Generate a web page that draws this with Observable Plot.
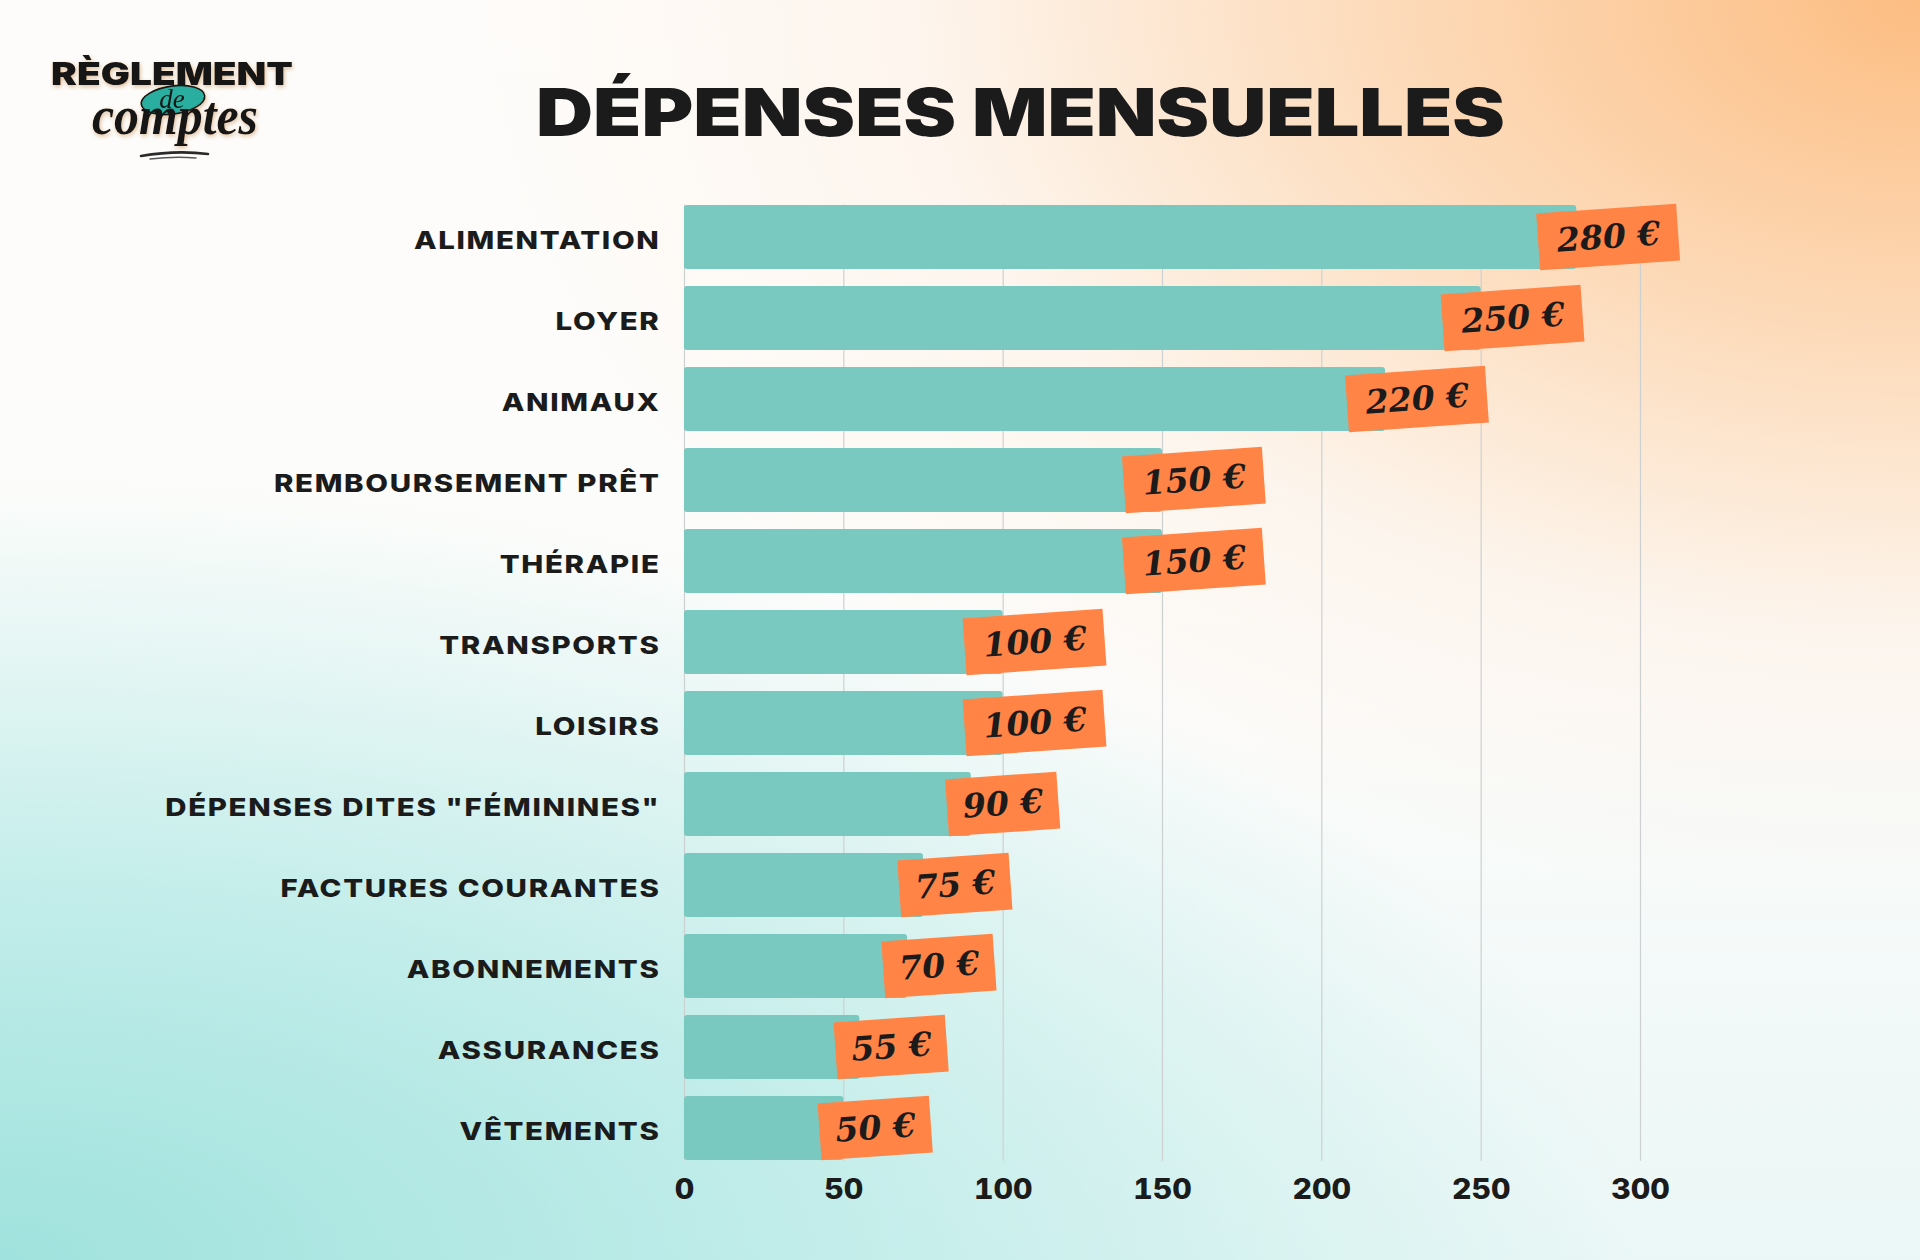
<!DOCTYPE html>
<html>
<head>
<meta charset="utf-8">
<script src="https://cdn.jsdelivr.net/npm/d3@7"></script>
<script src="https://cdn.jsdelivr.net/npm/@observablehq/plot@0.6"></script>
<style>
  html, body { margin: 0; padding: 0; }
  body {
    width: 1920px; height: 1260px; overflow: hidden; position: relative;
    background:
      radial-gradient(ellipse 75% 72% at 100% 0%, rgba(252,186,124,0.95) 0%, rgba(252,200,150,0.6) 40%, rgba(253,225,200,0.25) 70%, rgba(253,235,220,0) 100%),
      radial-gradient(ellipse 85% 62% at 0% 100%, rgba(160,226,221,1) 0%, rgba(175,232,228,0.75) 45%, rgba(215,243,241,0) 100%),
      linear-gradient(180deg, #fefcfa 0%, #fcfcfb 55%, #eaf7f6 100%);
  }
  #chart { position: absolute; left: 0; top: 150px; }
  #overlay { position: absolute; left: 0; top: 0; pointer-events: none; }
</style>
</head>
<body>
<div id="chart"></div>
<svg id="overlay" width="1920" height="1260" xmlns="http://www.w3.org/2000/svg">
  <defs>
    <filter id="glow" x="-10%" y="-30%" width="120%" height="160%">
      <feDropShadow dx="1" dy="2" stdDeviation="2" flood-color="#b5732e" flood-opacity="0.45"/>
    </filter>
  </defs>
  <text x="536" y="136" font-family="Inter, sans-serif" font-weight="900" font-size="66" textLength="969" lengthAdjust="spacingAndGlyphs" fill="#1b1b1b">DÉPENSES MENSUELLES</text>
  <g filter="url(#glow)">
    <text x="51" y="85" font-family="Inter, sans-serif" font-weight="900" font-size="31" textLength="242" lengthAdjust="spacingAndGlyphs" fill="#161616">RÈGLEMENT</text>
    <ellipse cx="173" cy="100" rx="32" ry="14" transform="rotate(-8 173 100)" fill="#2aae9f" stroke="#161616" stroke-width="1.6"/>
    <text x="172" y="108" text-anchor="middle" font-family="'Liberation Serif', serif" font-style="italic" font-size="27" fill="#161616">de</text>
    <text x="92" y="134" font-family="'Liberation Serif', serif" font-style="italic" font-weight="700" font-size="54" textLength="166" lengthAdjust="spacingAndGlyphs" fill="#161616">comptes</text>
  </g>
  <path d="M141 156 Q176 150 208 154" fill="none" stroke="#2a2a2a" stroke-width="2.6" stroke-linecap="round"/>
  <path d="M150 159 Q175 156 196 158" fill="none" stroke="#555" stroke-width="1.4" stroke-linecap="round"/>
</svg>
<script>
const categories = [
  "ALIMENTATION",
  "LOYER",
  "ANIMAUX",
  "REMBOURSEMENT PRÊT",
  "THÉRAPIE",
  "TRANSPORTS",
  "LOISIRS",
  "DÉPENSES DITES \"FÉMININES\"",
  "FACTURES COURANTES",
  "ABONNEMENTS",
  "ASSURANCES",
  "VÊTEMENTS"
];
const values = [280, 250, 220, 150, 150, 100, 100, 90, 75, 70, 55, 50];
const xTicks = [0, 50, 100, 150, 200, 250, 300];

const data = categories.map((c, i) => ({category: c, value: values[i]}));

const labelShift = 10;               // label centre, in data units past the bar end
const boxHalf = d => (String(d.value).length >= 3 ? 22 : 17.5);

const chart = Plot.plot({
  width: 1920,
  height: 1110,
  marginLeft: 684,
  marginRight: 280,
  marginTop: 37.4,
  marginBottom: 82.3,
  style: {background: "transparent", fontFamily: "Inter, sans-serif", color: "#1b1b1b", overflow: "visible"},
  x: {domain: [0, 300], ticks: xTicks, label: null},
  y: {domain: categories, padding: 0.211, label: null},
  marks: [
    Plot.ruleX(xTicks, {x: d => d, stroke: "#cdd0d0", strokeWidth: 1.2, insetTop: 17, insetBottom: 17}),
    Plot.barX(data, {x: "value", y: "category", fill: "#79c9c1", rx: 3}),
    Plot.barX(data, {
      x1: d => d.value + labelShift - boxHalf(d),
      x2: d => d.value + labelShift + boxHalf(d),
      y: "category", fill: "#ff8446", insetTop: 3.5, insetBottom: 3.5
    }),
    Plot.text(data, {
      x: d => d.value + labelShift, y: "category", text: d => `${d.value} €`,
      rotate: -4, fontSize: 33, fontFamily: "DejaVu Serif", fontStyle: "italic", fontWeight: "bold",
      fill: "#1b1b1b"
    }),
    Plot.axisX({ticks: xTicks, label: null, tickSize: 0, tickPadding: 1, fontSize: 28, fontWeight: 800, fill: "#1b1b1b"}),
    Plot.axisY({label: null, tickSize: 0, tickPadding: 24, fontSize: 24.5, fontWeight: 800, fill: "#1b1b1b", dy: 4})
  ]
});

document.getElementById("chart").appendChild(chart);

// tilt the orange label boxes like stickers (second group of bars)
const barGroups = chart.querySelectorAll('g[aria-label="bar"]');
d3.select(barGroups[barGroups.length - 1]).selectAll("rect").each(function() {
  const r = d3.select(this);
  const x = +r.attr("x"), y = +r.attr("y"), w = +r.attr("width"), h = +r.attr("height");
  r.attr("transform", `rotate(-4 ${x + w / 2} ${y + h / 2})`);
});

// widen tick labels horizontally (about their anchor) to mimic the wide geometric typeface
function widen(selector, sx, spacing) {
  d3.select(chart).selectAll(selector).each(function() {
    const t = d3.select(this);
    const xa = t.attr("x");
    let dx = 0;
    if (xa != null && /^-?[\d.]+$/.test(xa)) { dx = +xa; t.attr("x", null); }
    const tr = t.attr("transform") || "";
    t.attr("transform", `${tr} translate(${dx},0) scale(${sx},1)`);
    if (spacing) t.style("letter-spacing", spacing);
  });
}
widen('g[aria-label="y-axis tick label"] text', 1.2, "1.4px");
widen('g[aria-label="x-axis tick label"] text', 1.08, null);
</script>
</body>
</html>
